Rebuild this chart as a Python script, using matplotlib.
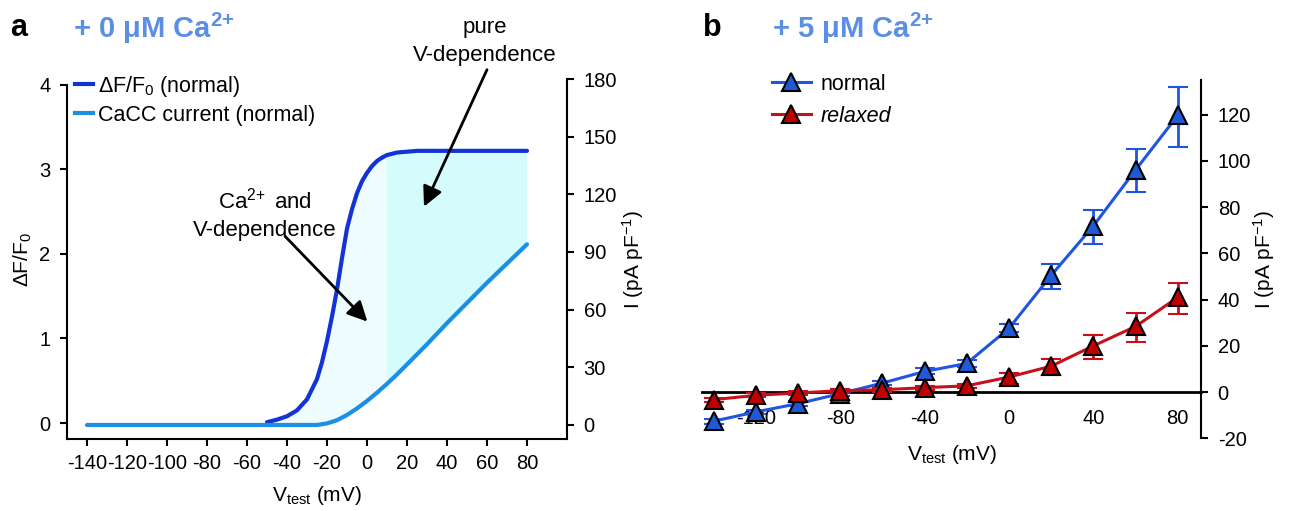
import matplotlib.pyplot as plt
from matplotlib.lines import Line2D

plt.rcParams['font.family'] = ['Liberation Sans', 'DejaVu Sans']
plt.rcParams['mathtext.fontset'] = 'custom'
plt.rcParams['mathtext.rm'] = 'Liberation Sans'
plt.rcParams['mathtext.it'] = 'Liberation Sans:italic'
plt.rcParams['mathtext.bf'] = 'Liberation Sans:bold'
plt.rcParams['axes.unicode_minus'] = False

# ---- panel a: fluorescence and CaCC current vs voltage ----
v_df = [-50, -45, -40, -35, -30, -25, -22.5, -20, -17.5, -15, -12.5, -10, -7.5, -5, -2.5,
        0, 2.5, 5, 7.5, 10, 15, 20, 25, 30, 40, 50, 60, 70, 80]
df_f0 = [0.01, 0.04, 0.08, 0.15, 0.28, 0.52, 0.72, 0.97, 1.26, 1.58, 1.95, 2.30, 2.53, 2.72, 2.86,
         2.96, 3.04, 3.10, 3.14, 3.17, 3.20, 3.21, 3.22, 3.22, 3.22, 3.22, 3.22, 3.22, 3.22]

v_cur = [-140, -50, -30, -25, -20, -15, -10, -5, 0, 5, 10, 15, 20, 30, 40, 50, 60, 70, 80]
i_cur = [0, 0, 0, 0, 0.8, 2.5, 5.2, 8.6, 12.5, 16.8, 21.4, 26.3, 31.5, 42, 53, 63.5, 74, 84, 94]

# ---- panel b: I-V with 5 uM Ca ----
v_test = [-140, -120, -100, -80, -60, -40, -20, 0, 20, 40, 60, 80]
i_normal = [-12.6, -8.6, -5.0, -0.7, 3.9, 8.9, 12.4, 27.6, 50.5, 71.9, 96.1, 119.7]
err_normal_lo = [1, 1, 1, 1, 1, 1.2, 1.4, 1.8, 6, 8, 9.7, 13.7]
err_normal_hi = [1, 1, 1, 1, 1, 1.4, 1.5, 1.8, 5, 6.7, 9, 12.3]
i_relaxed = [-3.3, -1.4, -0.4, 0.6, 1.0, 1.9, 2.7, 6.5, 11.2, 20, 28.4, 41]
err_relaxed_lo = [0.8, 0.8, 0.8, 0.8, 0.8, 0.8, 1, 3.0, 3.8, 5.9, 6.7, 7.4]
err_relaxed_hi = [0.8, 0.8, 0.8, 0.8, 0.8, 0.8, 1, 1.9, 2.9, 4.6, 5.7, 6.1]

W, H = 1289, 511
fig = plt.figure(figsize=(W / 100, H / 100), dpi=100)


def box(l, t, r, b):
    return [l / W, 1 - b / H, (r - l) / W, (b - t) / H]


FS = 14.5    # tick labels
LFS = 15.5   # legends / annotations
title_col = '#5b8fe6'
dark_blue = '#1234d4'
light_blue = '#1a8fe3'
blue = '#1f55e0'
red = '#c8101a'

# ================= panel a =================
ax = fig.add_axes(box(67, 79, 567, 439))
ax2 = ax.twinx()
l0, l1 = -0.189, 4.07
r0, r1 = -7.3, 180
ax.set_xlim(-150, 100)
ax.set_ylim(l0, l1)
ax2.set_ylim(r0, r1)


def to_left(r):
    return l0 + (r - r0) * (l1 - l0) / (r1 - r0)


# shaded regions between the two curves (split at +10 mV)
pale_x = [v for v in v_df if v <= 10] + [v for v in v_cur[::-1] if -50 <= v <= 10]
pale_y = [d for v, d in zip(v_df, df_f0) if v <= 10] + \
         [to_left(i) for v, i in zip(v_cur[::-1], i_cur[::-1]) if -50 <= v <= 10]
dark_x = [v for v in v_df if v >= 10] + [v for v in v_cur[::-1] if v >= 10]
dark_y = [d for v, d in zip(v_df, df_f0) if v >= 10] + \
         [to_left(i) for v, i in zip(v_cur[::-1], i_cur[::-1]) if v >= 10]
ax.fill(pale_x, pale_y, color='#effcfe', lw=0, zorder=1)
ax.fill(dark_x, dark_y, color='#d5fcfc', lw=0, zorder=1)

ax.plot(v_df, df_f0, color=dark_blue, lw=3, solid_capstyle='round', zorder=3)
ax2.plot(v_cur, i_cur, color=light_blue, lw=3, solid_capstyle='round', zorder=3)

for s in ['top', 'right']:
    ax.spines[s].set_visible(False)
for s in ['top', 'left', 'bottom']:
    ax2.spines[s].set_visible(False)
for a in (ax, ax2):
    for s in a.spines.values():
        s.set_linewidth(1.5)
ax.spines['left'].set_bounds(l0, 4)

ax.set_xticks(range(-140, 81, 20))
ax.set_yticks([0, 1, 2, 3, 4])
ax2.set_yticks(range(0, 181, 30))
ax.tick_params(axis='x', direction='out', length=5, width=1.5, labelsize=FS, pad=6)
ax.tick_params(axis='y', direction='out', length=5, width=1.5, labelsize=FS, pad=7)
ax2.tick_params(direction='out', length=5, width=1.5, labelsize=FS, pad=7)

ax.set_xlabel(r'V$_{\mathrm{test}}$ (mV)', fontsize=15, labelpad=8)
ax.set_ylabel(r'ΔF/F$_0$', fontsize=15, labelpad=4)
ax2.set_ylabel(r'I (pA pF$^{-1}$)', fontsize=15, rotation=90, labelpad=2)

arrow = dict(arrowstyle='-|>,head_length=0.6,head_width=0.3', color='black', lw=2,
             mutation_scale=20, shrinkA=0, shrinkB=0)
ax.annotate('', xy=(28.5, 2.56), xytext=(60, 4.18), arrowprops=arrow, annotation_clip=False)
ax.annotate('', xy=(0.2, 1.2), xytext=(-41, 2.21), arrowprops=arrow, annotation_clip=False)
ax.text(59, 4.51, 'pure\nV-dependence', ha='center', va='center', fontsize=16,
        linespacing=1.45, clip_on=False)
ax.text(-51, 2.47, r'Ca$^{2\!+}$ and' + '\nV-dependence', ha='center', va='center', fontsize=16,
        linespacing=1.45)

handles_a = [Line2D([], [], color=dark_blue, lw=3), Line2D([], [], color=light_blue, lw=3)]
ax2.legend(handles_a, [r'ΔF/F$_0$ (normal)', 'CaCC current (normal)'],
           loc='upper left', bbox_to_anchor=(75 / W, 1 - 74 / H), bbox_transform=fig.transFigure,
           frameon=False, fontsize=LFS, handlelength=0.85, handletextpad=0.2,
           borderpad=0, borderaxespad=0, labelspacing=0.28)

# ================= panel b =================
axb = fig.add_axes(box(702, 80, 1201, 438.3))
axb.set_xlim(-145.5, 91)
axb.set_ylim(-20, 135)
axb.spines['left'].set_visible(False)
axb.spines['top'].set_visible(False)
axb.spines['bottom'].set_position(('data', 0))
axb.spines['bottom'].set_linewidth(2)
axb.spines['right'].set_linewidth(1.5)
axb.spines['right'].set_bounds(-20, 135)
axb.yaxis.tick_right()
axb.yaxis.set_label_position('right')
axb.set_yticks(range(-20, 121, 20))
axb.set_xticks([-120, -80, -40, 0, 40, 80])
axb.tick_params(axis='y', direction='out', length=5, width=1.5, labelsize=FS, pad=7)
axb.tick_params(axis='x', length=0, pad=12, labelsize=FS)

axb.errorbar(v_test, i_normal, yerr=[err_normal_lo, err_normal_hi], color=blue, lw=2.2,
             elinewidth=2, capsize=7, capthick=2, marker='^', ms=13, mfc='#1f5ad6',
             mec='black', mew=1.5, clip_on=False, zorder=4)
axb.errorbar(v_test, i_relaxed, yerr=[err_relaxed_lo, err_relaxed_hi], color=red, lw=2.2,
             elinewidth=2, capsize=7, capthick=2, marker='^', ms=13, mfc='#c00000',
             mec='black', mew=1.5, clip_on=False, zorder=5)

axb.set_xlabel(r'V$_{\mathrm{test}}$ (mV)', fontsize=15, labelpad=11)
axb.set_ylabel(r'I (pA pF$^{-1}$)', fontsize=15, rotation=90, labelpad=0)

handles_b = [Line2D([], [], color=blue, lw=2.2, marker='^', ms=13, mfc='#1f5ad6', mec='black', mew=1.5),
             Line2D([], [], color=red, lw=2.2, marker='^', ms=13, mfc='#c00000', mec='black', mew=1.5)]
leg = axb.legend(handles_b, ['normal', 'relaxed'], loc='upper left',
                 bbox_to_anchor=(772 / W, 1 - 74 / H), bbox_transform=fig.transFigure,
                 frameon=False, fontsize=LFS, handlelength=1.8, handletextpad=0.45,
                 borderpad=0, borderaxespad=0, labelspacing=0.5)
leg.get_texts()[1].set_fontstyle('italic')

# panel letters and conditions
fig.text(10 / W, 1 - 28 / H, 'a', fontsize=22, fontweight='bold', va='center')
fig.text(73 / W, 1 - 28 / H, r'+ 0 μM Ca$^{\mathbf{2\!+}}$', fontsize=21, fontweight='bold',
         color=title_col, va='center')
fig.text(703 / W, 1 - 28 / H, 'b', fontsize=22, fontweight='bold', va='center')
fig.text(772 / W, 1 - 28 / H, r'+ 5 μM Ca$^{\mathbf{2\!+}}$', fontsize=21, fontweight='bold',
         color=title_col, va='center')

fig.savefig('out.png', dpi=100)
